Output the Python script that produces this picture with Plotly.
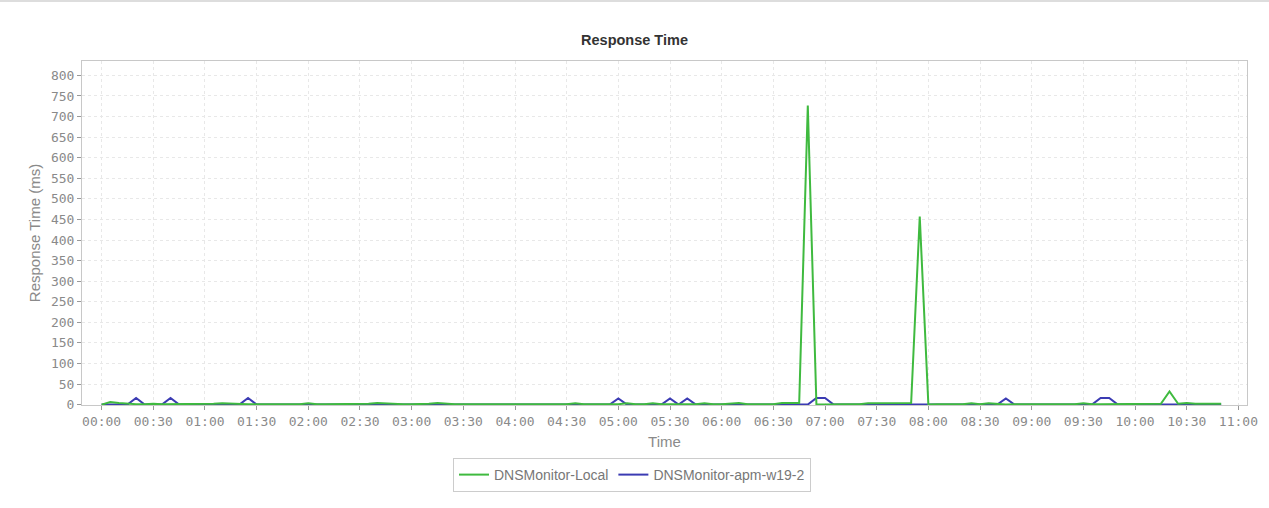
import pandas as pd
import plotly.graph_objects as go

# ---------------- data ----------------
start_time = "2000-01-01 00:00"
n_points = 131  # 00:00 .. 10:50 every 5 minutes
times = pd.date_range(start_time, periods=n_points, freq="5min")

series_names = ["DNSMonitor-Local", "DNSMonitor-apm-w19-2"]

local_ms = [
    0, 6, 4, 2, 1, 1, 2, 1, 1, 1, 2, 1,        # 00
    1, 2, 3, 2, 1, 1, 1, 1, 1, 1, 1, 1,        # 01
    3, 1, 1, 1, 1, 1, 1, 2, 4, 3, 1, 1,        # 02
    1, 1, 2, 4, 2, 1, 1, 1, 2, 1, 1, 1,        # 03
    1, 1, 1, 1, 1, 1, 1, 3, 1, 1, 1, 1,        # 04
    1, 3, 1, 1, 3, 1, 1, 1, 1, 1, 3, 1,        # 05
    1, 2, 4, 1, 1, 1, 1, 4, 4, 4, 727, 0,      # 06
    0, 1, 1, 1, 1, 3, 3, 4, 4, 4, 4, 457,      # 07
    0, 1, 1, 1, 1, 3, 1, 3, 1, 0, 1, 1,        # 08
    1, 1, 1, 1, 1, 1, 3, 1, 1, 1, 1, 1,        # 09
    1, 1, 1, 2, 32, 2, 4, 2, 2, 2, 2,          # 10
]

apm_ms = [
    0, 0, 0, 0, 16, 0, 0, 0, 16, 0, 0, 0,      # 00
    0, 0, 0, 0, 0, 16, 0, 0, 0, 0, 0, 0,       # 01
    0, 0, 0, 0, 0, 0, 0, 0, 0, 0, 0, 0,        # 02
    0, 0, 0, 0, 0, 0, 0, 0, 0, 0, 0, 0,        # 03
    0, 0, 0, 0, 0, 0, 0, 0, 0, 0, 0, 0,        # 04
    15, 0, 0, 0, 0, 0, 15, 0, 15, 0, 0, 0,     # 05
    0, 0, 0, 0, 0, 0, 0, 0, 0, 0, 0, 16,       # 06
    16, 0, 0, 0, 0, 0, 0, 0, 0, 0, 0, 0,       # 07
    0, 0, 0, 0, 0, 0, 0, 0, 0, 15, 0, 0,       # 08
    0, 0, 0, 0, 0, 0, 0, 0, 16, 16, 0, 0,      # 09
    0, 0, 0, 0, 0, 0, 0, 0, 0, 0, 0,           # 10
]

y_ticks = list(range(0, 801, 50))

# ---------------- figure ----------------
GREEN = "#3fba3f"
BLUE = "#3b3bb3"
GREY_TXT = "#8a8a8a"

fig = go.Figure()
fig.add_trace(go.Scatter(x=times, y=apm_ms, name=series_names[1], mode="lines",
                         line=dict(color=BLUE, width=2), legendrank=2))
fig.add_trace(go.Scatter(x=times, y=local_ms, name=series_names[0], mode="lines",
                         line=dict(color=GREEN, width=2), legendrank=1))

W, H = 1269, 508
ml, mr, mt, mb = 82, 22, 61, 103
pw, ph = W - ml - mr, H - mt - mb

fig.update_layout(
    width=W, height=H,
    margin=dict(l=ml, r=mr, t=mt, b=mb),
    paper_bgcolor="white", plot_bgcolor="white",
    title=dict(text="<b>Response Time</b>", x=0.5, xref="container",
               y=1 - 40 / H, yref="container", yanchor="middle",
               font=dict(family="Liberation Sans, Arial", size=14.5, color="#333333")),
    showlegend=True,
    legend=dict(orientation="h", x=(632 - ml) / pw, xanchor="center",
                y=-(458 - (mt + ph)) / ph, yanchor="top",
                bordercolor="#cccccc", borderwidth=1, bgcolor="white",
                font=dict(family="Liberation Sans, Arial", size=14, color="#777777"),
                traceorder="normal", itemwidth=30),
    xaxis=dict(
        type="date",
        range=["1999-12-31 23:48:36", "2000-01-01 11:05:00"],
        tickformat="%H:%M", dtick=1800000, tick0="2000-01-01 00:00",
        showgrid=True, gridcolor="#e8e8e8", griddash="3px,3px", gridwidth=1,
        showline=True, linecolor="#c8c8c8", linewidth=1, mirror=True,
        ticks="outside", ticklen=4, tickcolor="#999999",
        tickfont=dict(family="DejaVu Sans Mono", size=13, color=GREY_TXT),
        title=dict(text="Time", font=dict(family="Liberation Sans, Arial", size=15, color=GREY_TXT),
                   standoff=8),
        zeroline=False,
    ),
    yaxis=dict(
        range=[-1, 835],
        tickvals=y_ticks,
        showgrid=True, gridcolor="#e8e8e8", griddash="3px,3px", gridwidth=1,
        showline=True, linecolor="#c8c8c8", linewidth=1, mirror=True,
        ticks="outside", ticklen=4, tickcolor="#999999",
        tickfont=dict(family="DejaVu Sans Mono", size=13, color=GREY_TXT),
        title=dict(text="Response Time (ms)", font=dict(family="Liberation Sans, Arial", size=15, color=GREY_TXT),
                   standoff=6),
        zeroline=False,
    ),
)

# thin page border line at the very top
fig.add_shape(type="line", xref="paper", yref="paper",
              x0=-ml / pw, x1=(W - ml) / pw,
              y0=(H - mb - 1) / ph, y1=(H - mb - 1) / ph,
              line=dict(color="#dddddd", width=2))

fig.write_html("out.html",
               config={"displayModeBar": False},
               post_script="document.body.style.margin='0';document.body.style.overflow='hidden';")
